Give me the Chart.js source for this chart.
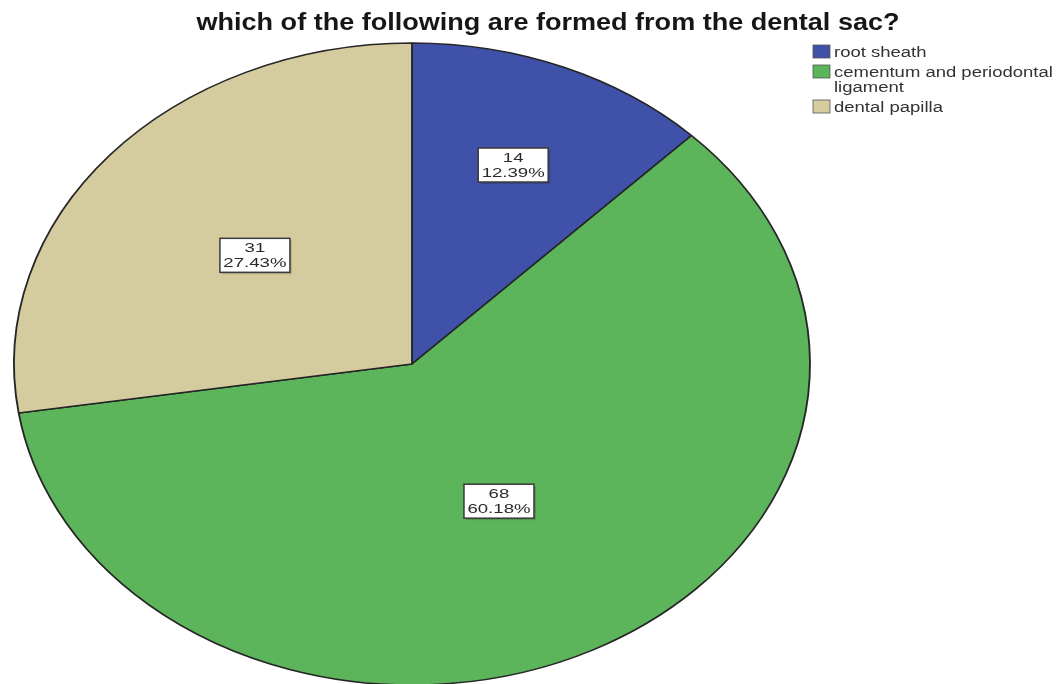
<!DOCTYPE html>
<html>
<head>
<meta charset="utf-8">
<script src="https://cdn.jsdelivr.net/npm/chart.js@4.4.1/dist/chart.umd.min.js"></script>
<style>
  html, body { margin: 0; padding: 0; background: #fff; overflow: hidden; }
  #pie { display: block; }
</style>
</head>
<body>
<canvas id="pie" width="1059" height="700"></canvas>
<script>
// dados do grafico
const tituloGrafico = 'which of the following are formed from the dental sac?';
const categorias = ['root sheath', 'cementum and periodontal ligament', 'dental papilla'];
const linhasLegenda = [['root sheath'], ['cementum and periodontal', 'ligament'], ['dental papilla']];
const contagens = [14, 68, 31];
const percentuais = ['12.39%', '60.18%', '27.43%'];
const cores = ['#3F51A8', '#5CB55B', '#D4CC9E'];

// pizza achatada: raio vertical 321, horizontal 398
const RAIO = 321;
const ESTICA_X = 398 / 321;
// distancia do rotulo ao centro (fracao do raio) por fatia
const fracRotulo = [0.67, 0.48, 0.52];

// desenha texto esticado na horizontal (a imagem original esta esticada)
function textoEsticado(ctx, txt, x, y, fonte, sx, alinhamento, larguraAlvo) {
    ctx.save();
    ctx.font = fonte;
    ctx.textBaseline = 'alphabetic';
    const wBase = ctx.measureText(txt).width;
    if (larguraAlvo) sx = larguraAlvo / wBase;
    const w = wBase * sx;
    let x0 = x;
    if (alinhamento === 'center') x0 = x - w / 2;
    ctx.translate(x0, y);
    ctx.scale(sx, 1);
    ctx.textAlign = 'left';
    ctx.fillText(txt, 0, 0);
    ctx.restore();
}

const pluginElipse = {
    id: 'elipse',
    beforeDatasetsDraw(chart) {
        const arco = chart.getDatasetMeta(0).data[0];
        const ctx = chart.ctx;
        ctx.save();
        ctx.translate(arco.x, arco.y);
        ctx.scale(ESTICA_X, 1);
        ctx.translate(-arco.x, -arco.y);
    },
    afterDatasetsDraw(chart) {
        const ctx = chart.ctx;
        ctx.restore();

        // rotulos com contagem e percentual
        const meta = chart.getDatasetMeta(0);
        const fonteRotulo = '12px "Liberation Sans", Arial, sans-serif';
        meta.data.forEach(function (arco, i) {
            const p = arco.getProps(['x', 'y', 'startAngle', 'endAngle', 'outerRadius'], true);
            const meio = (p.startAngle + p.endAngle) / 2;
            const f = fracRotulo[i];
            const lx = p.x + Math.cos(meio) * p.outerRadius * f * ESTICA_X;
            const ly = p.y + Math.sin(meio) * p.outerRadius * f;
            const bw = 70, bh = 34;
            ctx.save();
            ctx.fillStyle = 'rgba(0,0,0,0.15)';
            ctx.fillRect(lx - bw / 2 + 2, ly - bh / 2 + 2, bw, bh);
            ctx.fillStyle = '#ffffff';
            ctx.fillRect(lx - bw / 2, ly - bh / 2, bw, bh);
            ctx.strokeStyle = '#3a3a3a';
            ctx.lineWidth = 1.5;
            ctx.strokeRect(lx - bw / 2, ly - bh / 2, bw, bh);
            ctx.fillStyle = '#2a2a2a';
            textoEsticado(ctx, String(contagens[i]), lx, ly - 3, fonteRotulo, 1.55, 'center');
            textoEsticado(ctx, percentuais[i], lx, ly + 12, fonteRotulo, 1.55, 'center');
            ctx.restore();
        });
    },
    afterDraw(chart) {
        const ctx = chart.ctx;
        // titulo
        ctx.fillStyle = '#161616';
        textoEsticado(ctx, tituloGrafico, 548, 30, 'bold 24px "Liberation Sans", Arial, sans-serif', 1, 'center', 703);

        // legenda
        let y = 52;
        linhasLegenda.forEach(function (linhas, i) {
            ctx.fillStyle = cores[i];
            ctx.fillRect(813, y - 7, 17, 13);
            ctx.strokeStyle = '#555';
            ctx.lineWidth = 0.8;
            ctx.strokeRect(813, y - 7, 17, 13);
            ctx.fillStyle = '#333';
            linhas.forEach(function (linha, k) {
                textoEsticado(ctx, linha, 834, y + 5 + k * 15, '14px "Liberation Sans", Arial, sans-serif', 1.32, 'left');
            });
            y += 20 + (linhas.length - 1) * 15;
        });
    }
};

new Chart(document.getElementById('pie').getContext('2d'), {
    type: 'pie',
    data: {
        labels: categorias,
        datasets: [{
            data: contagens,
            backgroundColor: cores,
            borderColor: '#262626',
            borderWidth: 1.5,
            hoverOffset: 0,
            clip: false
        }]
    },
    options: {
        responsive: false,
        animation: false,
        devicePixelRatio: 1,
        radius: RAIO,
        rotation: 0,
        layout: { padding: { left: 0, right: 235, top: 34, bottom: 6 } },
        plugins: {
            legend: { display: false },
            title: { display: false },
            tooltip: { enabled: false }
        }
    },
    plugins: [pluginElipse]
});
</script>
</body>
</html>
